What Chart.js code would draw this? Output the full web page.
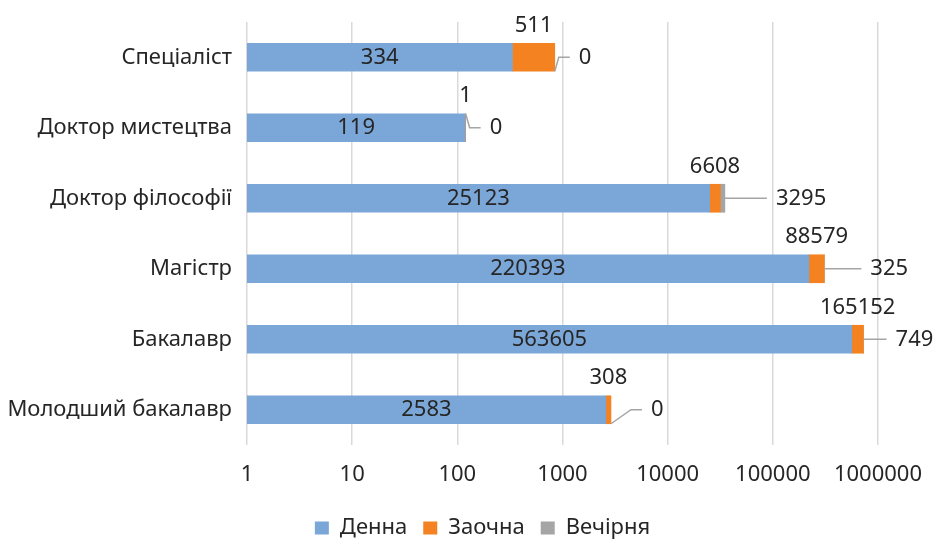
<!DOCTYPE html>
<html>
<head>
<meta charset="utf-8">
<script src="https://cdn.jsdelivr.net/npm/chart.js@4/dist/chart.umd.min.js"></script>
<style>
  html, body { margin: 0; padding: 0; background: #ffffff; overflow: hidden; }
  #wrap { width: 939px; height: 541px; }
</style>
</head>
<body>
<div id="wrap"><canvas id="c" width="939" height="541"></canvas></div>
<script>
// ---- data ----
const categories = ['Спеціаліст', 'Доктор мистецтва', 'Доктор філософії', 'Магістр', 'Бакалавр', 'Молодший бакалавр'];
const seriesNames = ['Денна', 'Заочна', 'Вечірня'];
const dennaValues = [334, 119, 25123, 220393, 563605, 2583];
const zaochnaValues = [511, 1, 6608, 88579, 165152, 308];
const vechirnyaValues = [0, 0, 3295, 325, 749, 0];
const tickValues = [1, 10, 100, 1000, 10000, 100000, 1000000];
const tickLabels = ['1', '10', '100', '1000', '10000', '100000', '1000000'];

// ---- styles ----
const colors = ['#7BA7D8', '#F48220', '#A5A5A5'];
const textColor = '#262626';
const fontFamily = "'Noto Sans', 'DejaVu Sans', sans-serif";
const fontSize = 22;

// label layout for the evening-series callouts (pixel offsets, not data)
const calloutShift = [24, 24, 51, 46, 32, 40];
const calloutAnchor = ['bottom', 'top', 'mid', 'mid', 'mid', 'bottom'];
const calloutBend = [4, 4, 0, 0, 0, 20];
const legendShift = 42;

Chart.defaults.font.family = fontFamily;
Chart.defaults.font.size = fontSize;
Chart.defaults.color = textColor;

const labelPlugin = {
  id: 'barLabels',
  afterLayout(chart) {
    if (chart.legend) {
      chart.legend.left += legendShift;
      chart.legend.right += legendShift;
    }
  },
  afterDatasetsDraw(chart) {
    const ctx = chart.ctx;
    const m0 = chart.getDatasetMeta(0);
    const m1 = chart.getDatasetMeta(1);
    const m2 = chart.getDatasetMeta(2);
    ctx.save();
    ctx.font = fontSize + 'px ' + fontFamily;
    ctx.fillStyle = textColor;
    ctx.textBaseline = 'middle';
    categories.forEach((cat, i) => {
      const b0 = m0.data[i], b1 = m1.data[i], b2 = m2.data[i];
      // Денна: centered inside
      ctx.textAlign = 'center';
      ctx.fillText(String(dennaValues[i]), (b0.base + b0.x) / 2, b0.y);
      // Заочна: above the segment
      ctx.fillText(String(zaochnaValues[i]), (b1.base + b1.x) / 2, b1.y - 32);
      // Вечірня: callout to the right
      const end = vechirnyaValues[i] > 0 ? b2.x : b1.x;
      const h = b1.height / 2;
      const lx = end + calloutShift[i];
      const ly = b1.y;
      let sy = ly;
      if (calloutAnchor[i] === 'bottom') sy = b1.y + h;
      if (calloutAnchor[i] === 'top') sy = b1.y - h;
      ctx.strokeStyle = '#A5A5A5';
      ctx.lineWidth = 1.5;
      ctx.beginPath();
      ctx.moveTo(end, sy);
      ctx.lineTo(end + calloutBend[i], ly);
      ctx.lineTo(lx - 9, ly);
      ctx.stroke();
      ctx.textAlign = 'left';
      ctx.fillText(String(vechirnyaValues[i]), lx, ly);
    });
    ctx.restore();
  }
};

const valueSets = [dennaValues, zaochnaValues, vechirnyaValues];

new Chart(document.getElementById('c'), {
  type: 'bar',
  data: {
    labels: categories,
    datasets: seriesNames.map((name, k) => ({
      label: name,
      data: valueSets[k],
      backgroundColor: colors[k],
      borderWidth: 0,
      barThickness: 28
    }))
  },
  options: {
    indexAxis: 'y',
    responsive: false,
    animation: false,
    layout: { padding: { top: 22, right: 58, bottom: -8, left: 0 } },
    scales: {
      x: {
        type: 'logarithmic',
        stacked: true,
        min: 1,
        max: 1000000,
        afterBuildTicks(scale) { scale.ticks = tickValues.map(v => ({ value: v })); },
        afterFit(scale) { scale.height = 56; },
        ticks: {
          padding: 17,
          color: textColor,
          autoSkip: false,
          maxRotation: 0,
          callback(value, index) { return tickLabels[index]; }
        },
        grid: { color: '#D9D9D9', lineWidth: 1.5, drawTicks: false },
        border: { display: false }
      },
      y: {
        stacked: true,
        afterFit(scale) { scale.width = 247; scale.paddingTop = 0; scale.paddingBottom = 0; },
        ticks: { padding: 15, color: textColor },
        grid: { display: false, drawTicks: false },
        border: { display: false }
      }
    },
    plugins: {
      legend: {
        position: 'bottom',
        labels: { boxWidth: 14, boxHeight: 13, padding: 16, color: textColor }
      },
      tooltip: { enabled: false }
    }
  },
  plugins: [labelPlugin]
});
</script>
</body>
</html>
